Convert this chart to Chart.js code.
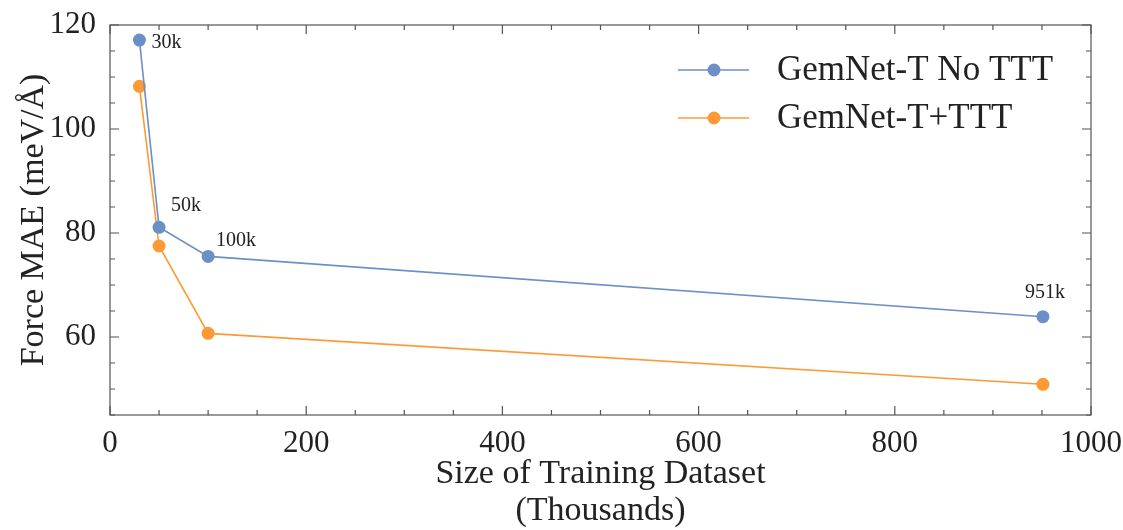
<!DOCTYPE html>
<html>
<head>
<meta charset="utf-8">
<script src="https://cdn.jsdelivr.net/npm/chart.js@4"></script>
<style>
  html, body { margin: 0; padding: 0; background: #fff; }
  #wrap { width: 1123px; height: 530px; }
</style>
</head>
<body>
<div id="wrap"><canvas id="c" width="1123" height="530"></canvas></div>
<script>
// dataset sizes (thousands) and force MAE (meV/Å)
const sizes = [30, 50, 100, 951];
const sizeLabels = ["30k", "50k", "100k", "951k"];
const noTTT = [117.1, 81.1, 75.5, 63.9];
const withTTT = [108.2, 77.5, 60.7, 50.9];
const seriesNames = ["GemNet-T No TTT", "GemNet-T+TTT"];
const xMajor = [0, 200, 400, 600, 800, 1000];
const yMajor = [60, 80, 100, 120];

const FONT = "'Liberation Serif', 'DejaVu Serif', serif";
const BLUE = "#6b8fc7";
const ORANGE = "#fd9a36";
const AXIS = "#555";

// matplotlib-style inward ticks on all four sides + frame
const framePlugin = {
  id: "frame",
  afterDraw(chart) {
    const { ctx, chartArea: a, scales } = chart;
    ctx.save();
    ctx.strokeStyle = AXIS;
    ctx.lineWidth = 1.2;
    ctx.strokeRect(a.left, a.top, a.right - a.left, a.bottom - a.top);
    ctx.beginPath();
    for (let v = 0; v <= 1000; v += 50) {
      const x = scales.x.getPixelForValue(v);
      const len = v % 200 === 0 ? 9 : 5;
      ctx.moveTo(x, a.bottom); ctx.lineTo(x, a.bottom - len);
      ctx.moveTo(x, a.top); ctx.lineTo(x, a.top + len);
    }
    for (let v = 45; v <= 120; v += 5) {
      const y = scales.y.getPixelForValue(v);
      const len = v % 20 === 0 ? 9 : 5;
      ctx.moveTo(a.left, y); ctx.lineTo(a.left + len, y);
      ctx.moveTo(a.right, y); ctx.lineTo(a.right - len, y);
    }
    ctx.stroke();

    // point annotations on the blue series
    ctx.fillStyle = "#222";
    ctx.font = "20px " + FONT;
    ctx.textBaseline = "middle";
    const offs = [[12, 3], [12, -22], [8, -16], [-18, -24]];
    sizes.forEach((s, i) => {
      const x = scales.x.getPixelForValue(s);
      const y = scales.y.getPixelForValue(noTTT[i]);
      ctx.fillText(sizeLabels[i], x + offs[i][0], y + offs[i][1]);
    });

    // legend with line + marker
    ctx.font = "35px " + FONT;
    const colors = [BLUE, ORANGE];
    seriesNames.forEach((name, i) => {
      const y = 70 + i * 48;
      ctx.strokeStyle = colors[i];
      ctx.lineWidth = 1.6;
      ctx.beginPath(); ctx.moveTo(678, y); ctx.lineTo(749, y); ctx.stroke();
      ctx.fillStyle = colors[i];
      ctx.beginPath(); ctx.arc(714, y, 6.5, 0, Math.PI * 2); ctx.fill();
      ctx.fillStyle = "#222";
      ctx.fillText(name, 777, y + 1);
    });
    ctx.restore();
  }
};

new Chart(document.getElementById("c"), {
  type: "line",
  data: {
    datasets: [
      {
        label: seriesNames[0],
        data: sizes.map((s, i) => ({ x: s, y: noTTT[i] })),
        borderColor: BLUE,
        backgroundColor: BLUE,
        borderWidth: 1.6,
        pointRadius: 6.5,
        pointBorderWidth: 0,
      },
      {
        label: seriesNames[1],
        data: sizes.map((s, i) => ({ x: s, y: withTTT[i] })),
        borderColor: ORANGE,
        backgroundColor: ORANGE,
        borderWidth: 1.6,
        pointRadius: 6.5,
        pointBorderWidth: 0,
      },
    ],
  },
  options: {
    responsive: false,
    animation: false,
    layout: { padding: { left: 14, right: 0, top: 25, bottom: 0 } },
    plugins: { legend: { display: false }, tooltip: { enabled: false } },
    scales: {
      x: {
        type: "linear",
        min: 0,
        max: 1000,
        afterBuildTicks: (s) => { s.ticks = xMajor.map((v) => ({ value: v })); },
        afterFit: (s) => { s.height = 115; s.paddingRight = 32; },
        grid: { display: false },
        border: { display: false },
        ticks: {
          color: "#222",
          font: { family: FONT, size: 31 },
          padding: 2,
          maxRotation: 0,
          callback: (v) => String(v),
        },
        title: {
          display: true,
          text: ["Size of Training Dataset", "(Thousands)"],
          color: "#222",
          font: { family: FONT, size: 34, lineHeight: 1.1 },
          padding: { top: 10, bottom: 0 },
        },
      },
      y: {
        min: 45,
        max: 120,
        afterBuildTicks: (s) => { s.ticks = yMajor.map((v) => ({ value: v })); },
        afterFit: (s) => { s.width = 96; },
        grid: { display: false },
        border: { display: false },
        ticks: { color: "#222", font: { family: FONT, size: 31 }, padding: 6 },
        title: {
          display: true,
          text: "Force MAE (meV/Å)",
          color: "#222",
          font: { family: FONT, size: 34 },
          padding: { top: 0, bottom: 4 },
        },
      },
    },
  },
  plugins: [framePlugin],
});
</script>
</body>
</html>
